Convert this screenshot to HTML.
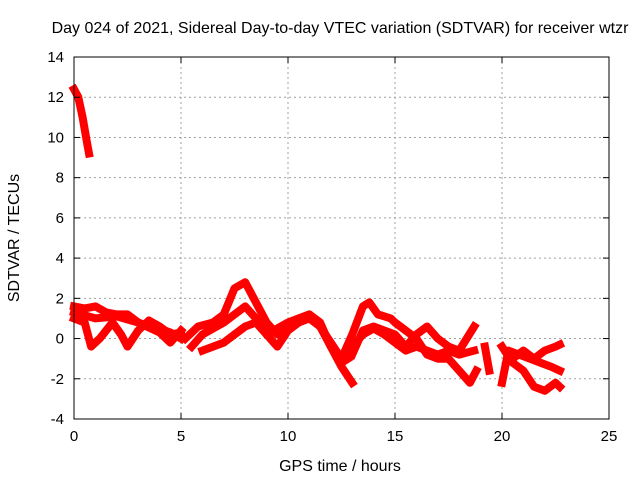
<!DOCTYPE html>
<html><head><meta charset="utf-8"><style>
body{margin:0;background:#fff}
svg text{font-family:"Liberation Sans",sans-serif;font-size:15px;fill:#000}
svg text.big{font-size:16px}
</style></head><body>
<svg id="c" width="640" height="480" xmlns="http://www.w3.org/2000/svg">
<rect width="640" height="480" fill="#fff"/>
<g id="grid"></g><g id="series"></g><g id="axes"></g>
<text class="big" x="340" y="33" text-anchor="middle">Day 024 of 2021, Sidereal Day-to-day VTEC variation (SDTVAR) for receiver wtzr</text>
<text class="big" x="340" y="471" text-anchor="middle">GPS time / hours</text>
<text class="big" x="19" y="238" text-anchor="middle" transform="rotate(-90 19 238)">SDTVAR / TECUs</text>
</svg>
<script>
const xTicks=[0,5,10,15,20,25];
const yTicks=[-4,-2,0,2,4,6,8,10,12,14];
const trackA=[[0,12.4],[0.2,12],[0.4,11],[0.6,9.8],[0.7,9.2]];
const trackB=[[0,1.6],[0.5,1.5],[1,1.6],[1.5,1.3],[2,1.2],[2.5,1.2],[3,0.8],[3.5,0.6],[4,0.5],[4.5,0.3],[5,0]];
const trackC=[[0,1.0],[0.5,0.8],[0.8,-0.4],[1.2,0],[1.8,0.8],[2.2,0.2],[2.5,-0.4],[3,0.4],[3.5,0.9],[4,0.6],[4.5,0.2],[5,0.3]];
const trackD=[[0,1.3],[1,1],[2,1.1],[3,0.8],[4,0.3],[4.5,-0.2],[5,0.4]];
const trackE=[[5.5,-0.4],[6,0.2],[6.5,0.5],[7,0.8],[7.5,1.2],[8,1.6],[8.5,1.0],[9,0.2],[9.5,0.5],[10,0.8],[10.5,1.0],[11,1.2],[11.5,0.6],[12,-0.4],[12.5,-1.4],[13,-2.2]];
const trackF=[[5.2,0],[5.8,0.6],[6.5,0.8],[7,1.2],[7.5,2.5],[8,2.8],[8.5,1.8],[9,0.8],[9.5,0.2],[10,0.6],[10.5,0.9],[11,1.2],[11.5,0.8],[12,-0.4],[12.5,-1.2],[12.8,-1.0]];
const trackG=[[6,-0.6],[6.5,-0.4],[7,-0.2],[7.5,0.2],[8,0.6],[8.5,0.8],[9,0.2],[9.5,-0.4],[10,0.4],[10.5,0.8],[11,1.0],[11.5,0.6],[12,-0.2],[12.5,-1.0],[13,-0.4],[13.5,0.2],[14,0.5],[14.5,0.2],[15,-0.2],[15.5,-0.6],[16,-0.4],[16.5,-0.6],[17,-0.8],[17.5,-0.6],[18,-0.8],[18.7,-0.6]];
const trackH=[[12.5,-1.0],[13,0.2],[13.5,1.6],[13.8,1.8],[14.2,1.2],[14.8,1.0],[15,0.8],[15.5,0.4],[16,0],[16.5,-0.8],[17,-1],[17.5,-1],[18,-1.6],[18.5,-2.2],[18.8,-1.6]];
const trackI=[[13,-0.8],[13.5,0.4],[14,0.6],[14.5,0.4],[15,0.2],[15.5,-0.4],[16,0.2],[16.5,0.6],[17,0],[17.5,-0.4],[18,-0.6],[18.7,0.6]];
const trackJ=[[19.2,-0.4],[19.4,-1.6]];
const trackK=[[20,-0.4],[20.5,-1.2],[21,-1.6],[21.5,-2.4],[22,-2.6],[22.5,-2.2],[22.7,-2.4]];
const trackL=[[20,-2.2],[20.3,-0.6],[20.8,-0.8],[21.3,-1],[21.8,-1.2],[22.3,-1.4],[22.7,-1.6]];
const trackM=[[20.5,-1.0],[21,-0.6],[21.5,-1.0],[22,-0.6],[22.5,-0.4],[22.7,-0.3]];
const tracks=[trackA,trackB,trackC,trackD,trackE,trackF,trackG,trackH,trackI,trackJ,trackK,trackL,trackM];

const L=74,R=609,T=57,B=419,xMin=0,xMax=25,yMin=-4,yMax=14;
const sx=v=>L+(v-xMin)/(xMax-xMin)*(R-L);
const sy=v=>B-(v-yMin)/(yMax-yMin)*(B-T);
const NS='http://www.w3.org/2000/svg';
function mk(tag,attrs,parent){const e=document.createElementNS(NS,tag);for(const k in attrs)e.setAttribute(k,attrs[k]);parent.appendChild(e);return e;}
const grid=document.getElementById('grid'),axes=document.getElementById('axes'),ser=document.getElementById('series');
xTicks.forEach(v=>{
  const x=sx(v);
  if(v>xMin&&v<xMax){const g=mk('line',{x1:x,x2:x,y1:T,y2:B,stroke:'#a0a0a0','stroke-dasharray':'2,3'},grid);
  
  }
  mk('line',{x1:x,x2:x,y1:B,y2:B-6,stroke:'#000'},axes);
  mk('line',{x1:x,x2:x,y1:T,y2:T+6,stroke:'#000'},axes);
  const t=mk('text',{x:x,y:B+22,'text-anchor':'middle'},axes);t.textContent=v;
  
  
});
yTicks.forEach(v=>{
  const y=sy(v);
  if(v>yMin&&v<yMax){const g=mk('line',{x1:L,x2:R,y1:y,y2:y,stroke:'#a0a0a0','stroke-dasharray':'2,3'},grid);
  
  }
  mk('line',{x1:L,x2:L+6,y1:y,y2:y,stroke:'#000'},axes);
  mk('line',{x1:R,x2:R-6,y1:y,y2:y,stroke:'#000'},axes);
  const t=mk('text',{x:L-10,y:y+5,'text-anchor':'end'},axes);t.textContent=v;
  
  
});
const frame=mk('rect',{x:L,y:T,width:R-L,height:B-T,fill:'none',stroke:'#000'},axes);


tracks.forEach(tr=>{
  const d=tr.map((p,i)=>(i?'L':'M')+sx(p[0]).toFixed(1)+' '+sy(p[1]).toFixed(1)).join(' ');
  const p=mk('path',{d:d,fill:'none',stroke:'#f00','stroke-width':8,'stroke-linejoin':'round','stroke-linecap':'square'},ser);
  
  
});
</script>
</body></html>
